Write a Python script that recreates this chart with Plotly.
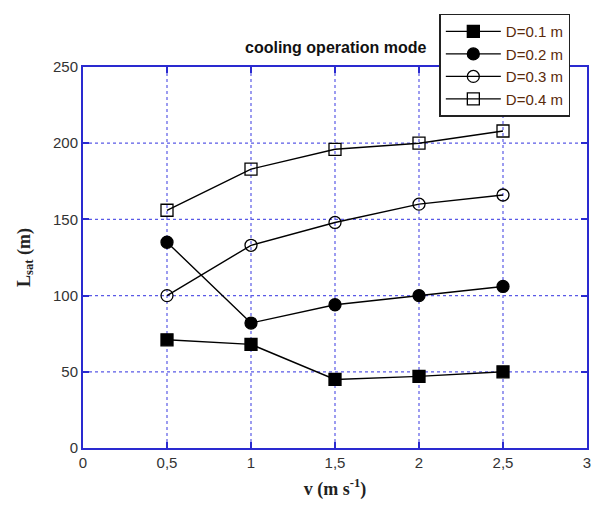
import plotly.graph_objects as go

# Air velocity (m/s) and saturation length (m) for each duct diameter
velocity = [0.5, 1.0, 1.5, 2.0, 2.5]
l_sat_d01 = [71, 68, 45, 47, 50]
l_sat_d02 = [135, 82, 94, 100, 106]
l_sat_d03 = [100, 133, 148, 160, 166]
l_sat_d04 = [156, 183, 196, 200, 208]

series_names = ["D=0.1 m", "D=0.2 m", "D=0.3 m", "D=0.4 m"]
x_tick_vals = [0, 0.5, 1, 1.5, 2, 2.5, 3]
x_tick_text = ["0", "0,5", "1", "1,5", "2", "2,5", "3"]
y_tick_vals = [0, 50, 100, 150, 200, 250]

AXIS_BLUE = "#2a2ad0"
GRID_BLUE = "#5a5ae6"

fig = go.Figure()

styles = [
    dict(symbol="square", size=12),
    dict(symbol="circle", size=12),
    dict(symbol="circle-open", size=12),
    dict(symbol="square-open", size=12),
]
for name, ys, st in zip(series_names, [l_sat_d01, l_sat_d02, l_sat_d03, l_sat_d04], styles):
    fig.add_trace(go.Scatter(
        x=velocity, y=ys, name=name, mode="lines+markers",
        line=dict(color="black", width=1.4),
        marker=dict(symbol=st["symbol"], size=st["size"], color="black",
                    line=dict(color="black", width=1.3)),
    ))

axis_common = dict(
    showline=True, linecolor=AXIS_BLUE, linewidth=2, mirror="ticks",
    ticks="inside", ticklen=6, tickcolor=AXIS_BLUE, tickwidth=2,
    showgrid=False, zeroline=False,
    tickfont=dict(family="Liberation Sans, Arial", size=15, color="#333333"),
)

fig.update_xaxes(range=[0, 3], tickvals=x_tick_vals, ticktext=x_tick_text,
                 title=dict(text="<b>v (m s<sup>-1</sup>)</b>", standoff=12,
                            font=dict(family="Liberation Serif, Times New Roman", size=18, color="#222222")),
                 **axis_common)
fig.update_yaxes(range=[0, 250], tickvals=y_tick_vals,
                 title=dict(text="<b>L<sub>sat</sub> (m)</b>", standoff=18,
                            font=dict(family="Liberation Serif, Times New Roman", size=18, color="#222222")),
                 **axis_common)

# Dotted blue grid, one line per tick value, drawn beneath the data
grid_line = dict(color=GRID_BLUE, width=1.2, dash="dot")
for xv in x_tick_vals[1:-1]:
    fig.add_shape(type="line", xref="x", yref="paper", x0=xv, x1=xv, y0=0, y1=1,
                  line=grid_line, layer="below")
for yv in y_tick_vals[1:-1]:
    fig.add_shape(type="line", xref="paper", yref="y", x0=0, x1=1, y0=yv, y1=yv,
                  line=grid_line, layer="below")

fig.add_annotation(
    text="<b>cooling operation mode</b>", xref="paper", yref="paper",
    x=0.5, y=1.052, xanchor="center", yanchor="middle", showarrow=False,
    font=dict(family="Liberation Sans, Arial", size=16, color="#111111"),
)

fig.update_layout(
    width=595, height=512,
    margin=dict(l=83, r=4, t=67, b=64),
    paper_bgcolor="white", plot_bgcolor="white",
    showlegend=True,
    legend=dict(
        x=0.707, y=1.14, xanchor="left", yanchor="top",
        bgcolor="white", bordercolor="#222222", borderwidth=1.5,
        font=dict(family="Liberation Sans, Arial", size=15, color="#5a2a0a"),
        tracegroupgap=0, itemwidth=55,
    ),
)

fig.write_html("out.html")
